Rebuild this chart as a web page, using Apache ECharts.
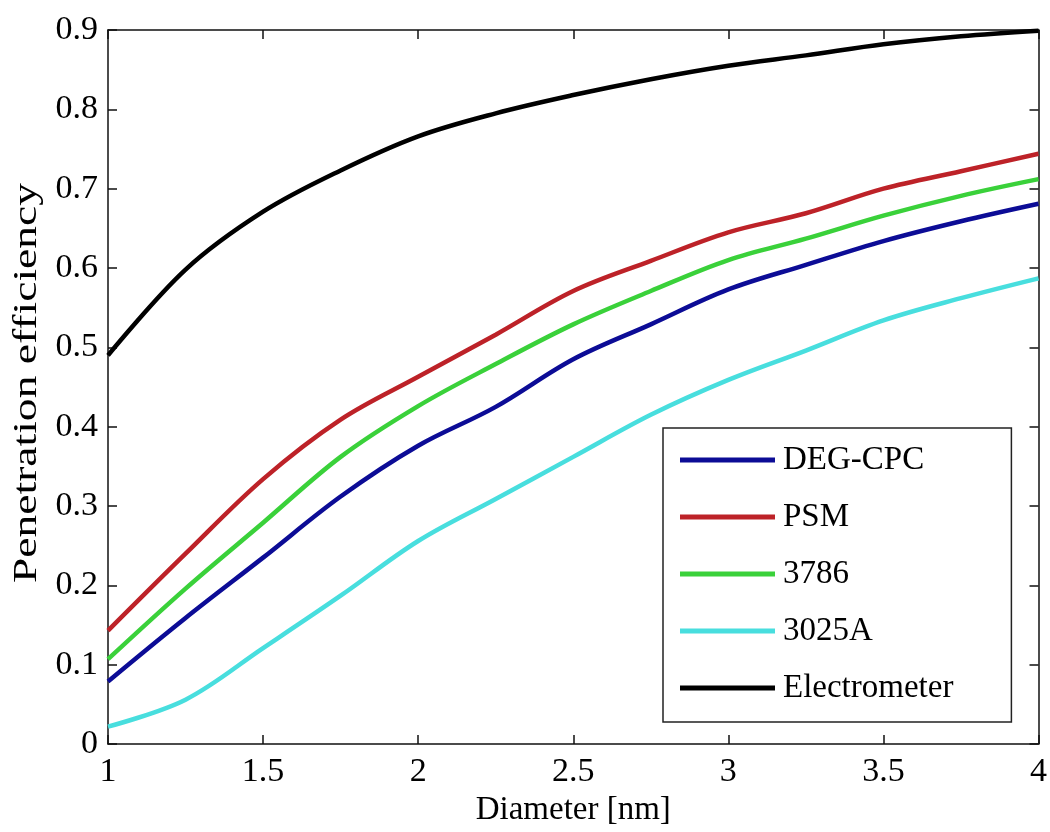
<!DOCTYPE html>
<html>
<head>
<meta charset="utf-8">
<script src="https://cdn.jsdelivr.net/npm/echarts@6/dist/echarts.min.js"></script>
<style>
	html, body { margin: 0; padding: 0; background: #fff; }
	#chart { width: 1050px; height: 832px; }
</style>
</head>
<body>
<div id="chart"></div>
<script>
;(function () {

	// diameter [nm], sampled every 0.25
	var diameters = [1, 1.25, 1.5, 1.75, 2, 2.25, 2.5, 2.75, 3, 3.25, 3.5, 3.75, 4];

	// penetration efficiency
	var degCpc      = [0.079, 0.159, 0.235, 0.312, 0.376, 0.425, 0.485, 0.529, 0.573, 0.604, 0.634, 0.659, 0.681];
	var psm         = [0.143, 0.240, 0.334, 0.409, 0.463, 0.516, 0.571, 0.609, 0.645, 0.669, 0.700, 0.722, 0.744];
	var cpc3786     = [0.107, 0.196, 0.279, 0.362, 0.426, 0.479, 0.529, 0.571, 0.610, 0.637, 0.666, 0.691, 0.712];
	var cpc3025A    = [0.022, 0.056, 0.121, 0.187, 0.256, 0.309, 0.362, 0.415, 0.459, 0.496, 0.534, 0.562, 0.587];
	var electrometer = [0.490, 0.598, 0.671, 0.723, 0.766, 0.795, 0.818, 0.838, 0.855, 0.868, 0.882, 0.892, 0.899];

	var seriesNames = ['DEG-CPC', 'PSM', '3786', '3025A', 'Electrometer'];
	var seriesValues = [degCpc, psm, cpc3786, cpc3025A, electrometer];
	var seriesColors = ['#0c0c96', '#bd2228', '#3ad13a', '#48dede', '#000000'];

	var font = 'Liberation Serif, Times New Roman, serif';

	function pairs(ys) {
		return diameters.map(function (x, i) {
			return [x, ys[i]];
		});
	}

	var axisLine = { show: true, onZero: false, lineStyle: { color: '#111', width: 1.5 } };
	var axisTick = { show: true, inside: true, length: 9, lineStyle: { color: '#111', width: 1.5 } };

	var chart = echarts.init(document.getElementById('chart'));

	chart.setOption({
		backgroundColor: '#fff',
		animation: false,
		textStyle: { fontFamily: font, color: '#000' },
		grid: {
			left: 108,
			right: 10,
			top: 30,
			bottom: 82
		},
		// the figure's y title is drawn stretched along its length
		graphic: [{
			type: 'text',
			x: 27,
			y: 383,
			rotation: Math.PI / 2,
			scaleX: 1.38,
			style: {
				text: 'Penetration efficiency',
				font: '33px ' + font,
				fill: '#000',
				align: 'center',
				verticalAlign: 'middle'
			}
		}],
		legend: {
			orient: 'vertical',
			left: 663,
			top: 428,
			data: seriesNames,
			icon: 'rect',
			itemWidth: 95,
			itemHeight: 5,
			itemGap: 23,
			selectedMode: false,
			borderColor: '#222',
			borderWidth: 1.5,
			padding: [15, 58, 17, 17],
			textStyle: {
				fontFamily: font,
				fontSize: 33,
				lineHeight: 34,
				color: '#000',
				padding: [0, 0, 0, 3]
			}
		},
		xAxis: [{
			type: 'value',
			min: 1,
			max: 4,
			interval: 0.5,
			name: 'Diameter [nm]',
			nameLocation: 'middle',
			nameGap: 46,
			nameTextStyle: { fontFamily: font, fontSize: 33, color: '#000' },
			axisLine: axisLine,
			axisTick: axisTick,
			axisLabel: { fontFamily: font, fontSize: 34, color: '#000', margin: 11 },
			splitLine: { show: false }
		}, {
			type: 'value',
			position: 'top',
			min: 1,
			max: 4,
			interval: 0.5,
			axisLine: axisLine,
			axisTick: axisTick,
			axisLabel: { show: false },
			splitLine: { show: false }
		}],
		yAxis: [{
			type: 'value',
			min: 0,
			max: 0.9,
			interval: 0.1,
			axisLine: axisLine,
			axisTick: axisTick,
			axisLabel: { fontFamily: font, fontSize: 34, color: '#000', margin: 10 },
			splitLine: { show: false }
		}, {
			type: 'value',
			position: 'right',
			min: 0,
			max: 0.9,
			interval: 0.1,
			axisLine: axisLine,
			axisTick: axisTick,
			axisLabel: { show: false },
			splitLine: { show: false }
		}],
		series: seriesNames.map(function (name, i) {
			return {
				name: name,
				type: 'line',
				data: pairs(seriesValues[i]),
				color: seriesColors[i],
				smooth: 0.35,
				showSymbol: false,
				symbol: 'none',
				lineStyle: { color: seriesColors[i], width: 4.5 }
			};
		})
	});

})();
</script>
</body>
</html>
